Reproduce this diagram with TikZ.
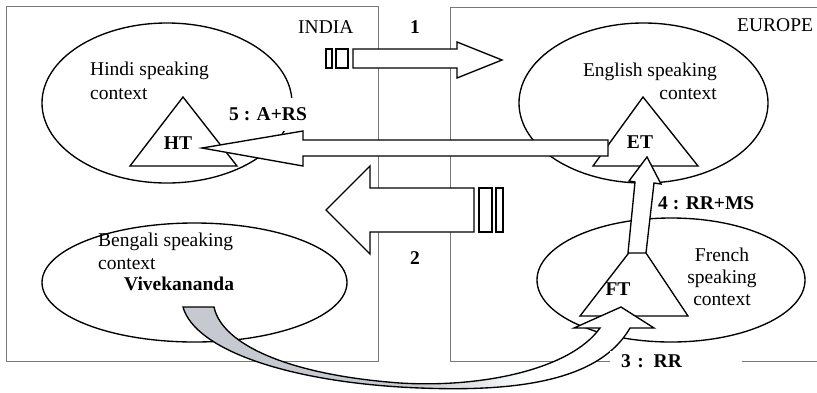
\documentclass[tikz,border=0pt]{standalone}
\usepackage{fontspec}
\setmainfont{Liberation Serif}
\usetikzlibrary{shapes.geometric}
\definecolor{boxgray}{RGB}{120,120,120}
\definecolor{arrowgray}{RGB}{198,202,208}
\pgfdeclarehorizontalshading{bandshade}{100bp}{color(0bp)=(arrowgray); color(50bp)=(arrowgray); color(62bp)=(white); color(100bp)=(white)}
\begin{document}
\begin{tikzpicture}[x=1pt,y=-1pt,
  region/.style={draw=boxgray, line width=0.9pt},
  ctx/.style={draw, ellipse, line width=1.35pt, inner sep=0pt},
  tri/.style={draw, line width=1.35pt, line join=miter, fill=white},
  blockarrow/.style={draw, fill=white, line width=1.35pt, line join=miter},
  plain/.style={font=\fontsize{19.5}{23}\selectfont, inner sep=0pt},
  bold/.style={font=\fontsize{19.5}{23}\selectfont\bfseries, inner sep=0pt},
]
\useasboundingbox (0,0) rectangle (817,392);
% regions
\draw[region] (6,6) rectangle (378,361);
\draw[region] (817,7) -- (450,7) -- (450,361) -- (817,361);
\node[plain, anchor=base west] (india) at (298,33) {INDIA};
\node[plain, anchor=base west] (europe) at (737,31) {EUROPE};
% contexts
\node[ctx, minimum width=250pt, minimum height=160pt] (hindi) at (167,103) {};
\node[ctx, minimum width=249pt, minimum height=160pt] (english) at (643.5,103) {};
\node[ctx, minimum width=305pt, minimum height=119pt] (bengali) at (194.5,282.5) {};
\node[ctx, minimum width=268pt, minimum height=124pt] (french) at (671,280) {};
% triangles
\draw[tri] (183,97) -- (237,166) -- (130,166) -- cycle;
\draw[tri] (643,97) -- (698,166) -- (593,166) -- cycle;
\draw[tri] (638,241) -- (688,316) -- (580,316) -- cycle;
\node[bold] (ht) at (178,143) {HT};
\node[bold] (et) at (640,142) {ET};
\node[bold] (ft) at (618,289) {FT};
% context texts
\node[plain, anchor=base west] (hindi1) at (90,75) {Hindi speaking};
\node[plain, anchor=base west] (hindi2) at (90,99) {context};
\node[plain, anchor=base east] (eng1) at (717,76) {English speaking};
\node[plain, anchor=base east] (eng2) at (717,99) {context};
\node[plain, anchor=base west] (ben1) at (98,246) {Bengali speaking};
\node[plain, anchor=base west] (ben2) at (98,269) {context};
\node[bold, anchor=base west] (viv) at (124,290) {Vivekananda};
\node[plain, anchor=base] (fr1) at (722,261) {French};
\node[plain, anchor=base] (fr2) at (722,283) {speaking};
\node[plain, anchor=base] (fr3) at (722,305) {context};
% label 5 (covers part of the Hindi ellipse)
\node[bold, fill=white, minimum height=33pt, inner xsep=4pt] (l5) at (268,114) {5 : A+RS};
% arrow 1
\draw[blockarrow] (326,49) rectangle (332,68);
\draw[blockarrow] (336,49) rectangle (348,68);
\draw[blockarrow] (353,49) -- (457,49) -- (457,42) -- (502,60) -- (457,78) -- (457,68) -- (353,68) -- cycle;
\node[bold] (l1) at (415,27) {1};
% arrow 2
\draw[blockarrow] (474,188) -- (370,188) -- (370,166) -- (326,210) -- (370,254) -- (370,232) -- (474,232) -- cycle;
\draw[blockarrow] (479,188) rectangle (492,232);
\draw[blockarrow] (496,188) rectangle (503,232);
\node[bold] (l2) at (415,258) {2};
% arrow 5
\draw[blockarrow] (608,140) -- (303,140) -- (303,131) -- (202,148) -- (303,166) -- (303,156) -- (608,156) -- cycle;
% arrow 4
\draw[blockarrow] (628,253) -- (635,182) -- (629,181) -- (647,157) -- (661,184) -- (654,183) -- (646,253) -- cycle;
\node[bold, anchor=west] (l4) at (658,203) {4 : RR+MS};
% arrow 3
\draw[line width=1.35pt, line join=miter, shading=bandshade, shading angle=0]
  (183,307) -- (214,307) .. controls (222,345) and (290,375) .. (400,383)
  .. controls (480,388) and (570,370) .. (600,328) -- (574,328) -- (621,307) -- (654,328) -- (630,328)
  .. controls (600,380) and (520,392) .. (420,388)
  .. controls (290,383) and (195,350) .. (183,307) -- cycle;
\node[bold, fill=white, anchor=west, minimum height=20pt, text width=110pt, inner xsep=11pt, align=left] (l3) at (610,361) {3 : RR};
\end{tikzpicture}
\end{document}
